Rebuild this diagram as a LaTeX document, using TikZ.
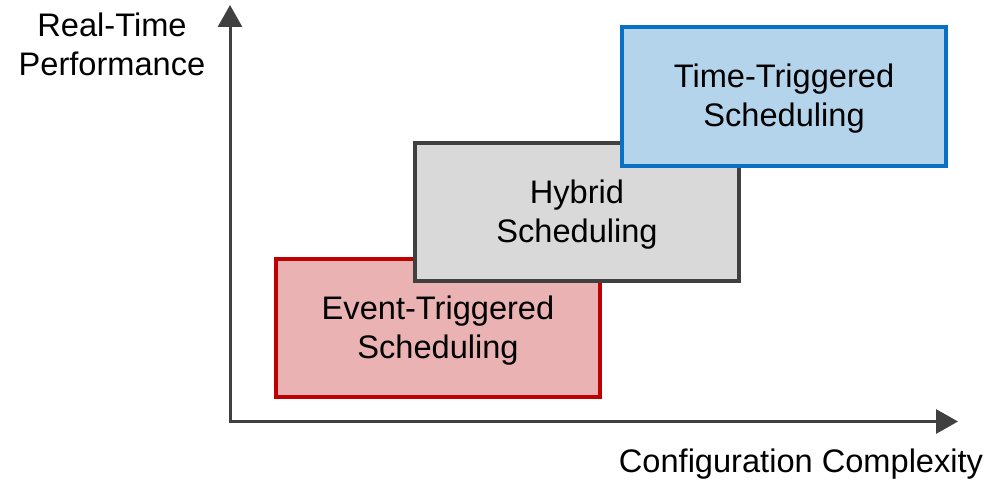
\documentclass[tikz,border=0pt]{standalone}
\usepackage{fontspec}
\setmainfont{Liberation Sans}
\usetikzlibrary{arrows.meta}
\definecolor{axisgray}{HTML}{404040}
\definecolor{redfill}{HTML}{EAB2B2}
\definecolor{redline}{HTML}{C00000}
\definecolor{grayfill}{HTML}{D9D9D9}
\definecolor{grayline}{HTML}{404040}
\definecolor{bluefill}{HTML}{B4D4EC}
\definecolor{blueline}{HTML}{0A70C4}
\begin{document}
\begin{tikzpicture}[x=1pt,y=-1pt,
  lbl/.style={font=\fontsize{32.6}{39}\selectfont, align=center, inner sep=0pt, text=black},
  box/.style={draw, line width=4pt, minimum width=324pt, minimum height=138pt, inner sep=0pt},
  axis/.style={draw=axisgray, line width=3pt, -{Triangle[length=22pt,width=24pt]}, color=axisgray}]
\useasboundingbox (0,0) rectangle (1003,484);
% axes
\coordinate (o) at (230,421.5);
\coordinate (ytip) at (230,5);
\coordinate (xtip) at (958,421.5);
\draw[axis] (o) -- (ytip);
\draw[axis] ([xshift=-1.5pt]o) -- (xtip);
% axis titles
\node[lbl] (ylab) at (112,44.5) {Real-Time\\Performance};
\node[lbl] (xlab) at (801,464) {Configuration Complexity};
% scheduling regions
\node[box, draw=redline, fill=redfill] (event) at (438,328) {};
\node[box, draw=grayline, fill=grayfill] (hybrid) at (577,212) {};
\node[box, draw=blueline, fill=bluefill] (time) at (784,96.5) {};
% region captions
\node[lbl] (eventtxt) at ([yshift=-2.5pt]event.center) {Event-Triggered\\Scheduling};
\node[lbl] (hybridtxt) at ([yshift=-2.5pt]hybrid.center) {Hybrid\\Scheduling};
\node[lbl] (timetxt) at ([yshift=-2.5pt]time.center) {Time-Triggered\\Scheduling};
\end{tikzpicture}
\end{document}
